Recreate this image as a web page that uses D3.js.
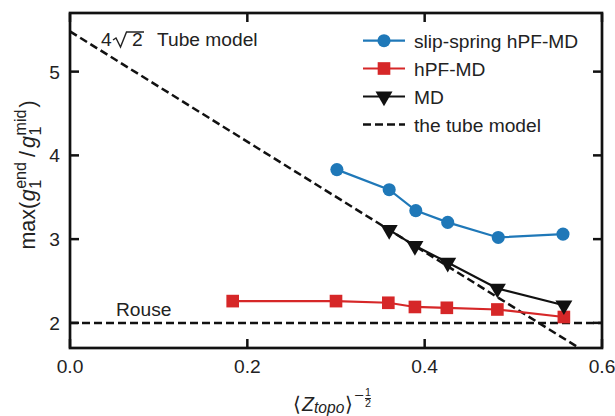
<!DOCTYPE html>
<html><head><meta charset="utf-8">
<script src="https://cdn.jsdelivr.net/npm/d3@7"></script>
<style>body{margin:0;background:#fff}svg{display:block}text{font-family:"Liberation Sans",Arial,Helvetica,sans-serif;fill:#222}</style>
</head><body>
<script>
const slipX = [0.301, 0.360, 0.390, 0.426, 0.483, 0.556];
const slipY = [3.83, 3.59, 3.34, 3.20, 3.02, 3.06];
const hpfX = [0.1835, 0.300, 0.359, 0.389, 0.425, 0.482, 0.557];
const hpfY = [2.26, 2.26, 2.24, 2.19, 2.18, 2.16, 2.07];
const mdX = [0.360, 0.389, 0.426, 0.482, 0.557];
const mdY = [3.11, 2.92, 2.72, 2.41, 2.21];
const tubeX = [0.0, 0.6];
const tubeY = [5.48, 1.53];
const rouseY = 2;
const xTicks = [0.0, 0.2, 0.4, 0.6];
const yTicks = [2, 3, 4, 5];
const legendLabels = ["slip-spring hPF-MD", "hPF-MD", "MD", "the tube model"];
const colors = {slip: "#1f78b8", hpf: "#d62728", md: "#111111", dash: "#111111"};

const FS = 19.2;
const W = 615, H = 416;
const m = {l: 70, t: 13, r: 13, b: 68};
const svg = d3.select("body").append("svg").attr("width", W).attr("height", H);
const x = d3.scaleLinear().domain([0, 0.6]).range([m.l, W - m.r]);
const y = d3.scaleLinear().domain([1.7, 5.7]).range([H - m.b, m.t]);

svg.append("clipPath").attr("id", "plotclip").append("rect")
  .attr("x", m.l).attr("y", m.t).attr("width", W - m.l - m.r).attr("height", H - m.t - m.b);
const plot = svg.append("g").attr("clip-path", "url(#plotclip)");

const DASH = "8,4";
plot.append("line").attr("x1", x(0)).attr("x2", x(0.6)).attr("y1", y(rouseY)).attr("y2", y(rouseY))
  .attr("stroke", colors.dash).attr("stroke-width", 2.5).attr("stroke-dasharray", DASH);
plot.append("line").attr("x1", x(tubeX[0])).attr("x2", x(tubeX[1])).attr("y1", y(tubeY[0])).attr("y2", y(tubeY[1]))
  .attr("stroke", colors.dash).attr("stroke-width", 2.5).attr("stroke-dasharray", DASH);

const line = d3.line().x(d => x(d[0])).y(d => y(d[1]));
const MK = {
  slip: {type: d3.symbolCircle, size: 135},
  hpf: {type: d3.symbolSquare, size: 160},
  md: {type: d3.symbolTriangle, size: 125, rot: true}
};
function series(xs, ys, color, marker) {
  const pts = xs.map((v, i) => [v, ys[i]]);
  plot.append("path").attr("d", line(pts)).attr("fill", "none").attr("stroke", color).attr("stroke-width", 2.2);
  const sym = d3.symbol().type(marker.type).size(marker.size);
  plot.selectAll(null).data(pts).enter().append("path")
    .attr("d", sym).attr("fill", color)
    .attr("transform", d => `translate(${x(d[0])},${y(d[1])})${marker.rot ? " rotate(180)" : ""}`);
}
series(hpfX, hpfY, colors.hpf, MK.hpf);
series(mdX, mdY, colors.md, MK.md);
series(slipX, slipY, colors.slip, MK.slip);

// frame and ticks
const fr = svg.append("g");
fr.append("rect").attr("x", m.l).attr("y", m.t).attr("width", W - m.l - m.r).attr("height", H - m.t - m.b)
  .attr("fill", "none").attr("stroke", "#111").attr("stroke-width", 2.7);
const tl = 9;
xTicks.forEach(t => {
  fr.append("line").attr("x1", x(t)).attr("x2", x(t)).attr("y1", H - m.b).attr("y2", H - m.b - tl).attr("stroke", "#111").attr("stroke-width", 2.5);
  fr.append("line").attr("x1", x(t)).attr("x2", x(t)).attr("y1", m.t).attr("y2", m.t + tl).attr("stroke", "#111").attr("stroke-width", 2.5);
  svg.append("text").attr("x", x(t)).attr("y", H - m.b + 25).attr("text-anchor", "middle").attr("font-size", FS).text(d3.format(".1f")(t));
});
yTicks.forEach(t => {
  fr.append("line").attr("x1", m.l).attr("x2", m.l + tl).attr("y1", y(t)).attr("y2", y(t)).attr("stroke", "#111").attr("stroke-width", 2.5);
  fr.append("line").attr("x1", W - m.r).attr("x2", W - m.r - tl).attr("y1", y(t)).attr("y2", y(t)).attr("stroke", "#111").attr("stroke-width", 2.5);
  svg.append("text").attr("x", m.l - 10).attr("y", y(t) + 7).attr("text-anchor", "end").attr("font-size", FS).text(t);
});

function rich(g, runs, fs) {
  let cx = 0;
  function put(r, x0) {
    const t = g.append("text").attr("x", x0).attr("y", (r.dy || 0) * fs)
      .attr("font-size", fs * (r.s || 1)).text(r.t);
    if (r.it) t.attr("font-style", "italic");
    return t.node().getComputedTextLength();
  }
  runs.forEach(r => {
    if (r.stack) {
      const w1 = put(r.stack[0], cx), w2 = put(r.stack[1], cx);
      if (r.bar) {
        const w = Math.max(w1, w2);
        g.append("line").attr("x1", cx).attr("x2", cx + w).attr("y1", r.bar * fs).attr("y2", r.bar * fs).attr("stroke", "#222").attr("stroke-width", 1);
      }
      cx += Math.max(w1, w2) + (r.gap || 0);
    } else {
      cx += put(r, cx) + (r.gap || 0);
    }
  });
  return cx;
}

// y label
const yl = svg.append("g");
const ylw = rich(yl, [
  {t: "max(", gap: 0.5},
  {t: "g", it: true, gap: 0.5},
  {stack: [{t: "end", s: 0.75, dy: -0.42}, {t: "1", s: 0.75, dy: 0.3}], gap: 5},
  {t: "/", gap: 3},
  {t: "g", it: true, gap: 0.5},
  {stack: [{t: "mid", s: 0.75, dy: -0.42}, {t: "1", s: 0.75, dy: 0.3}], gap: 2},
  {t: ")"}
], 21.5);
yl.attr("transform", `translate(35,${175 + ylw / 2}) rotate(-90)`);

// x label
const xl = svg.append("g");
const xlw = rich(xl, [
  {t: "⟨", gap: 1},
  {t: "Z", it: true},
  {t: "topo", it: true, s: 0.8, dy: 0.08, gap: 1},
  {t: "⟩", gap: 1},
  {t: "−", s: 0.85, dy: -0.5, gap: 1},
  {stack: [{t: "1", s: 0.55, dy: -0.75}, {t: "2", s: 0.55, dy: -0.2}], bar: -0.64}
], 19.5);
xl.attr("transform", `translate(${332 - xlw / 2},411)`);

// annotations
const ann = svg.append("g").attr("transform", `translate(101,46)`);
ann.append("text").attr("x", 0).attr("y", 0).attr("font-size", FS).text("4");
ann.append("path").attr("d", "M12,-6 L15,-8 L19.5,1 L25.5,-14 L43,-14")
  .attr("fill", "none").attr("stroke", "#222").attr("stroke-width", 1.4).attr("stroke-linejoin", "miter");
ann.append("text").attr("x", 31).attr("y", 0).attr("font-size", FS).text("2");
ann.append("text").attr("x", 56).attr("y", 0).attr("font-size", FS).text("Tube model");
svg.append("text").attr("x", 116).attr("y", 316).attr("font-size", FS).text("Rouse");

// legend
const lg = svg.append("g");
const rowsY = [40.7, 68.5, 96.5, 124.5];
const lx0 = 363, lx1 = 405, ltx = 414;
const lmarks = [
  Object.assign({c: colors.slip}, MK.slip),
  Object.assign({c: colors.hpf}, MK.hpf),
  Object.assign({c: colors.md}, MK.md),
  null
];
legendLabels.forEach((lab, i) => {
  const yy = rowsY[i];
  const mk = lmarks[i];
  if (mk) {
    lg.append("line").attr("x1", lx0).attr("x2", lx1).attr("y1", yy).attr("y2", yy).attr("stroke", mk.c).attr("stroke-width", 2.2);
    lg.append("path").attr("d", d3.symbol().type(mk.type).size(mk.size)).attr("fill", mk.c)
      .attr("transform", `translate(${(lx0 + lx1) / 2},${yy})${mk.rot ? " rotate(180)" : ""}`);
  } else {
    lg.append("line").attr("x1", lx0).attr("x2", lx1).attr("y1", yy).attr("y2", yy).attr("stroke", colors.dash).attr("stroke-width", 2.5).attr("stroke-dasharray", DASH);
  }
  lg.append("text").attr("x", ltx).attr("y", yy + 7).attr("font-size", FS).text(lab);
});
</script>
</body></html>
